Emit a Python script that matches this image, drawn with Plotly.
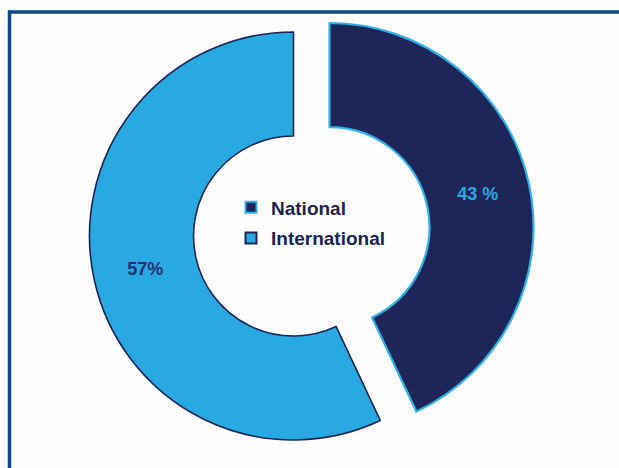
import plotly.graph_objects as go

labels = ["National", "International"]
values = [43, 57]
pct_text = ["43 %", "57%"]
colors = ["#1E2659", "#29A9E1"]
edge_colors = ["#2FB0E6", "#1C2456"]
text_colors = ["#2BA8E0", "#223173"]

W, H = 619, 468
TRANSP = "rgba(0,0,0,0)"


def px_dom(cx, cy, r):
    return dict(x=[(cx - r) / W, (cx + r) / W], y=[1 - (cy + r) / H, 1 - (cy - r) / H])


R = 204
fig = go.Figure()

# International slice (centre position)
fig.add_trace(go.Pie(
    labels=labels, values=values, sort=False, direction="clockwise", hole=0.49,
    text=["", pct_text[1]], textinfo="text", textposition="inside",
    insidetextorientation="horizontal",
    textfont=dict(family="Liberation Sans, Arial", size=18, color=text_colors, weight="bold"),
    marker=dict(colors=[TRANSP, colors[1]], line=dict(color=[TRANSP, edge_colors[1]], width=[0, 1.6])),
    domain=px_dom(293.5, 236, R), showlegend=False, hoverinfo="skip",
))

# National slice (pulled out)
fig.add_trace(go.Pie(
    labels=labels, values=values, sort=False, direction="clockwise", hole=0.49,
    text=[pct_text[0], ""], textinfo="text", textposition="inside",
    insidetextorientation="horizontal",
    textfont=dict(family="Liberation Sans, Arial", size=18, color=text_colors, weight="bold"),
    marker=dict(colors=[colors[0], TRANSP], line=dict(color=[edge_colors[0], TRANSP], width=[2.2, 0])),
    domain=px_dom(329.5, 227, R), showlegend=False, hoverinfo="skip",
))

# legend entries
for i, lab in enumerate(labels):
    fig.add_trace(go.Scatter(
        x=[None], y=[None], mode="markers", name=lab, legendgroup=lab,
        marker=dict(symbol="square", size=11, color=colors[i],
                    line=dict(color=edge_colors[i], width=2)),
    ))

fig.update_layout(
    width=W, height=H, autosize=False,
    margin=dict(l=0, r=0, t=0, b=0),
    paper_bgcolor="#FEFEFE", plot_bgcolor="rgba(0,0,0,0)",
    xaxis=dict(visible=False), yaxis=dict(visible=False),
    legend=dict(
        x=231 / W, y=1 - 223 / H, xanchor="left", yanchor="middle",
        bgcolor="rgba(0,0,0,0)", tracegroupgap=3,
        font=dict(family="Liberation Sans, Arial", size=19, color="#1B2150", weight="bold"),
    ),
    shapes=[
        dict(type="line", xref="paper", yref="paper", x0=8 / W, x1=1.01, y0=1 - 12 / H, y1=1 - 12 / H,
             line=dict(color="#0D4A8E", width=3.5)),
        dict(type="line", xref="paper", yref="paper", x0=9.5 / W, x1=9.5 / W, y0=1 - 10.5 / H, y1=-0.01,
             line=dict(color="#0D4A8E", width=3.5)),
    ],
)

fig.write_html("out.html")
